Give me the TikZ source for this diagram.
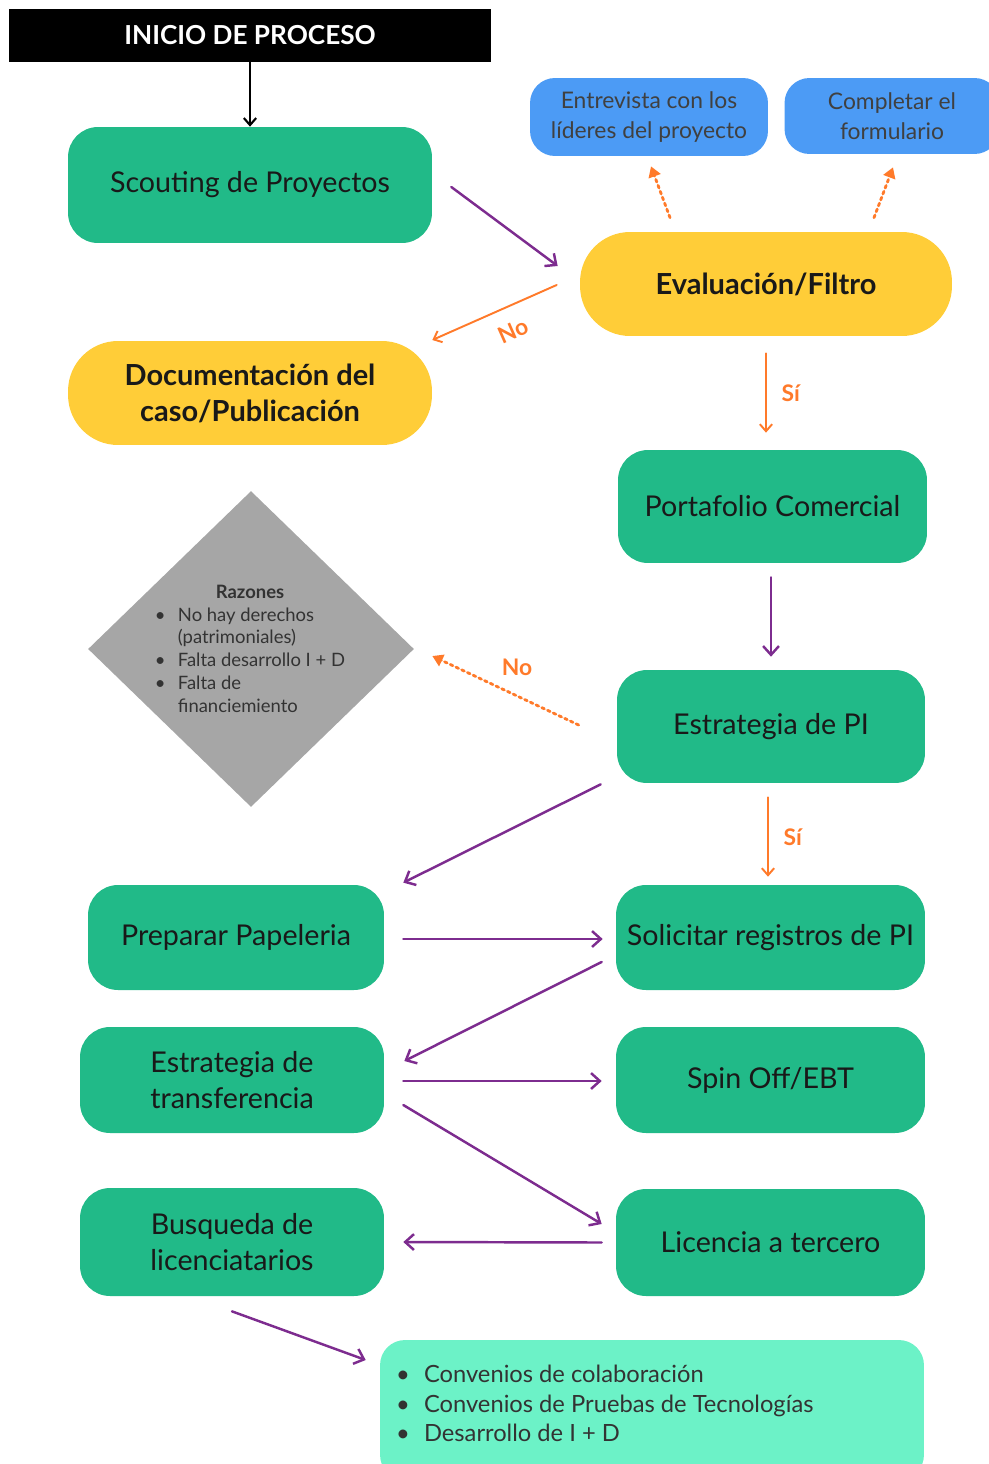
\documentclass[tikz,border=0pt]{standalone}
\usepackage{fontspec}
\setmainfont{Lato}
\usetikzlibrary{arrows.meta,shapes.geometric,calc}
\definecolor{cverde}{HTML}{21BA88}
\definecolor{camarillo}{HTML}{FFCD38}
\definecolor{cazul}{HTML}{4C9BF5}
\definecolor{cgris}{HTML}{A6A6A6}
\definecolor{cmenta}{HTML}{6CF2C7}
\definecolor{cmorado}{HTML}{7D2C8F}
\definecolor{cnaranja}{HTML}{FF7A2A}

\begin{document}
\begin{tikzpicture}[x=0.02cm,y=-0.02cm,line cap=round,line join=round,
  caja/.style={rounded corners=0.6cm,align=center,inner sep=0pt,text=black!90,
    font=\fontsize{16.3}{20.4}\selectfont},
  verde/.style={caja,fill=cverde},
  amarillo/.style={caja,fill=camarillo,rounded corners=1cm,font=\bfseries\fontsize{16.5}{20.4}\selectfont},
  azul/.style={caja,fill=cazul,rounded corners=0.5cm,text=black!75,font=\fontsize{13}{17}\selectfont},
  flecha/.style={cmorado,line width=1.4pt,-{Straight Barb[length=5pt,width=9pt,line width=1.4pt]}},
  flechana/.style={cnaranja,line width=1.1pt,-{Straight Barb[length=4pt,width=7pt,line width=1.1pt]}},
  punteada/.style={cnaranja,line width=1.6pt,dotted,-{Triangle[length=6pt,width=7pt]}},
  etiq/.style={cnaranja,font=\bfseries\fontsize{13}{15}\selectfont}]
\useasboundingbox (0,0) rectangle (989,1464);

\node (inicio) [fill=black,text=white,minimum width=9.64cm,minimum height=1.06cm,
  font=\bfseries\fontsize{14.9}{16}\selectfont] at (250,35.5) {INICIO DE PROCESO};
\node (scout) [verde,minimum width=7.28cm,minimum height=2.32cm] at (250,185) {Scouting de Proyectos};
\node (entre) [azul,minimum width=4.76cm,minimum height=1.56cm] at (649,117) {Entrevista con los\\l\'ideres del proyecto};
\node (compl) [azul,minimum width=4.3cm,minimum height=1.52cm] at (892,116) {Completar el\\formulario};
\node (eval) [amarillo,minimum width=7.44cm,minimum height=2.08cm] at (766,284) {Evaluación/Filtro};
\node (doc) [amarillo,minimum width=7.28cm,minimum height=2.08cm] at (250,393) {Documentación del\\caso/Publicación};
\node (porta) [verde,minimum width=6.18cm,minimum height=2.26cm] at (772.5,506.5) {Portafolio Comercial};
\node (estpi) [verde,minimum width=6.16cm,minimum height=2.26cm] at (771,726.5) {Estrategia de PI};
\node (razon) [diamond,fill=cgris,minimum width=6.52cm,minimum height=6.32cm,inner sep=0pt] at (251,649) {};
\node (razontxt) [anchor=north,text=black!80,font=\fontsize{10.5}{13}\selectfont] at (250,576)
  {\begin{tabular}{@{}l@{\hspace{7pt}}l@{}}
   \multicolumn{2}{c}{\textbf{Razones}}\\
   • & No hay derechos\\
     & (patrimoniales)\\
   • & Falta desarrollo I + D\\
   • & Falta de\\
     & financiemiento
   \end{tabular}};
\node (prep) [verde,minimum width=5.92cm,minimum height=2.1cm] at (236,937.5) {Preparar Papeleria};
\node (solic) [verde,minimum width=6.18cm,minimum height=2.1cm] at (770.5,937.5) {Solicitar registros de PI};
\node (transf) [verde,minimum width=6.08cm,minimum height=2.12cm] at (232,1080) {Estrategia de\\transferencia};
\node (spin) [verde,minimum width=6.18cm,minimum height=2.12cm] at (770.5,1080) {Spin Off/EBT};
\node (busq) [verde,minimum width=6.08cm,minimum height=2.16cm] at (232,1242) {Busqueda de\\licenciatarios};
\node (lic) [verde,minimum width=6.18cm,minimum height=2.14cm] at (770.5,1242.5) {Licencia a tercero};
\node (conv) [fill=cmenta,rounded corners=0.5cm,minimum width=10.88cm,minimum height=2.8cm,inner sep=0pt] at (652,1410) {};
\node (convtxt) [anchor=north west,align=left,text=black!80,font=\fontsize{13.5}{17}\selectfont] at (390,1355)
  {\begin{tabular}{@{}l@{\hspace{8pt}}l@{}}
   • & Convenios de colaboración\\
   • & Convenios de Pruebas de Tecnologías\\
   • & Desarrollo de I + D
   \end{tabular}};

\draw [black,line width=1.2pt,-{Straight Barb[length=4pt,width=7pt,line width=1.2pt]}] (inicio.south) -- (scout.north);
\draw [flecha] ($(scout.east)+(19,2)$) -- ($(eval.west)+(-22,-18)$);
\draw [flechana] ($(eval.west)+(-23,1)$) -- node[etiq,sloped,below=5pt,pos=.43] {No} ($(doc.east)+(0,-53)$);
\draw [punteada] ($(eval.north)+(-96,-14)$) -- ($(entre.south)+(2,10)$);
\draw [punteada] ($(eval.north)+(108,-14)$) -- ($(compl.south)+(1,13)$);
\draw [flechana] ($(eval.south)+(0,17)$) -- node[etiq,right=5pt] {Sí} ($(porta.north)+(-6.5,-17)$);
\draw [flecha] ($(porta.south)+(-1.5,14)$) -- ($(estpi.north)+(0,-13)$);
\draw [punteada] ($(estpi.west)+(-38,-1.5)$) -- ($(razon.east)+(18,7)$);
\node (no2) [etiq] at (517,667) {No};
\draw [flecha] ($(estpi.south west)+(-16,1)$) -- ($(prep.north east)+(19,-2)$);
\draw [flechana] ($(estpi.south)+(-3,14)$) -- node[etiq,right=5pt] {Sí} ($(solic.north)+(-2.5,-8)$);
\draw [flecha] ($(prep.east)+(19,1.5)$) -- ($(solic.west)+(-13,1.5)$);
\draw [flecha] ($(solic.west)+(-14,24.5)$) -- ($(transf.east)+(20,-19)$);
\draw [flecha] ($(transf.east)+(19,1)$) -- ($(spin.west)+(-14,1)$);
\draw [flecha] ($(transf.east)+(19,25)$) -- ($(lic.west)+(-14,-18.5)$);
\draw [flecha] ($(lic.west)+(-14,0)$) -- ($(busq.east)+(19,0)$);
\draw [flecha] ($(busq.south)+(0,15)$) -- ($(conv.west)+(-14,-50)$);
\end{tikzpicture}
\end{document}
